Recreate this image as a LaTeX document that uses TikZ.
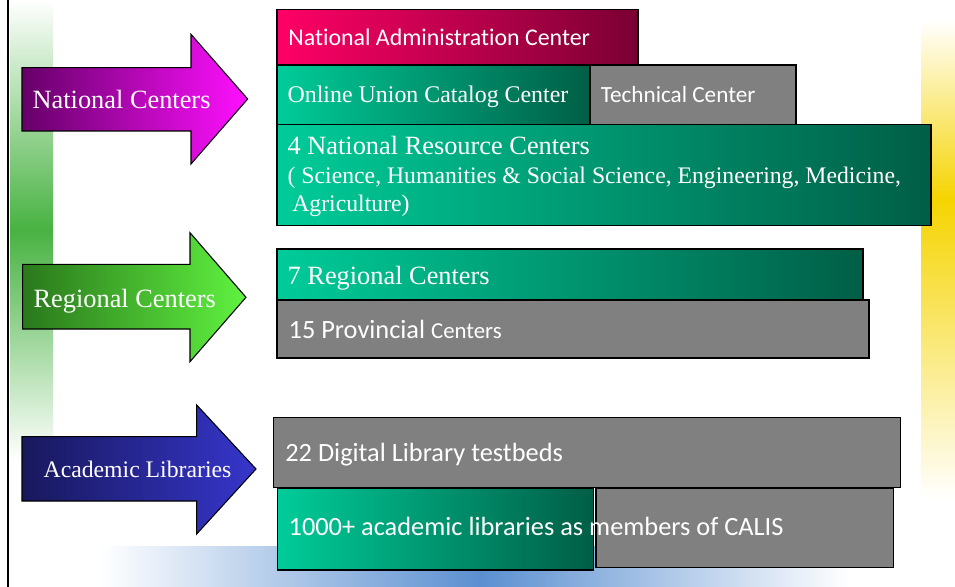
\documentclass[tikz,border=0pt]{standalone}
\usepackage{fontspec}
\newfontfamily\timesfont{Liberation Serif}
\newfontfamily\calibrifont{Carlito}[Ligatures=NoCommon]

\definecolor{tealhi}{RGB}{0,204,153}
\definecolor{tealdk}{RGB}{0,94,70}
\definecolor{boxgrey}{RGB}{128,128,128}
\definecolor{rosehi}{RGB}{255,0,102}
\definecolor{rosedk}{RGB}{122,0,50}
\definecolor{stripgreen}{RGB}{72,178,66}
\definecolor{stripyellow}{RGB}{245,212,0}
\definecolor{stripblue}{RGB}{91,143,208}
\definecolor{magdk}{RGB}{102,0,104}
\definecolor{maghi}{RGB}{255,16,255}
\definecolor{leafdk}{RGB}{42,120,28}
\definecolor{leafhi}{RGB}{96,242,64}
\definecolor{navydk}{RGB}{24,24,92}
\definecolor{navyhi}{RGB}{54,54,204}

\tikzset{
  outline/.style={draw=black, line width=0.6pt},
  greybox/.style={outline, fill=boxgrey},
  tealbox/.style={outline, left color=tealhi, right color=tealdk},
  rosebox/.style={outline, left color=rosehi, right color=rosedk},
  serif text/.style={anchor=base west, inner sep=0pt, text=white,
    font=\timesfont\fontsize{#1}{18}\selectfont},
  sans text/.style={anchor=base west, inner sep=0pt, text=white,
    font=\calibrifont\fontsize{#1}{18}\selectfont}
}

\begin{document}
\begin{tikzpicture}[x=0.02cm, y=-0.02cm]

    \useasboundingbox (0,0) rectangle (955,587);

    % backdrop strips
    \fill[top color=white, bottom color=stripgreen] (10,0) rectangle (53,230);
    \fill[top color=stripgreen, bottom color=white] (10,230) rectangle (53,460);
    \fill[top color=white, bottom color=stripyellow] (921,20) rectangle (955,200);
    \fill[top color=stripyellow, bottom color=white] (921,200) rectangle (955,500);
    \fill[left color=white, right color=stripblue] (100,546) rectangle (480,587);
    \fill[left color=stripblue, right color=white] (480,546) rectangle (850,587);
    \draw[line width=1.2pt] (8,0) -- (8,587);

    % level arrows
    \draw[outline, left color=magdk, right color=maghi] (22,67.7) -- (191,67.7) -- (191,34.3)
        -- (247.7,99) -- (191,164) -- (191,131) -- (22,131) -- cycle;
    \node[serif text=15] (natl) at (32.3,109) {National Centers};

    \draw[outline, left color=leafdk, right color=leafhi] (22.7,264.3) -- (190,264.3) -- (190,232.7)
        -- (246,297.3) -- (190,361.7) -- (190,329) -- (22.7,329) -- cycle;
    \node[serif text=15] (regl) at (33.3,307.3) {Regional Centers};

    \draw[outline, left color=navydk, right color=navyhi] (22,436.7) -- (196.7,436.7) -- (196.7,405)
        -- (256,469) -- (196.7,534) -- (196.7,501) -- (22,501) -- cycle;
    \node[serif text=13.5] (acad) at (43.3,477.7) {Academic Libraries};

    % national level
    \draw[rosebox] (277,9.3) rectangle (638,65);
    \node[sans text=13.6] (admin) at (288,45.7) {National Administration Center};
    \draw[tealbox] (277,65) rectangle (590,124.7);
    \node[serif text=13.6] (union) at (287.3,103) {Online Union Catalog Center};
    \draw[greybox] (590,65) rectangle (796,124.7);
    \node[sans text=13.2] (tech) at (600.5,103) {Technical Center};
    \draw[tealbox] (277,124.7) rectangle (931,225.7);
    \node[serif text=15] (natres) at (287.3,155) {4 National Resource Centers};
    \node[serif text=13.5] (fields) at (287.3,184)
        {( Science, Humanities \& Social Science, Engineering, Medicine,};
    \node[serif text=13.5] (agri) at (292,212) {Agriculture)};

    % regional level
    \draw[tealbox] (277,249) rectangle (863,300);
    \node[serif text=15] (regc) at (287.3,284) {7 Regional Centers};
    \draw[greybox] (277,300) rectangle (869,358);
    \node[sans text=15] (prov) at (288.3,338.3)
        {15 Provincial {\fontsize{13}{16}\selectfont Centers}};

    % academic level
    \draw[greybox] (273.3,417.3) rectangle (900.7,487.3);
    \node[sans text=15] (testbed) at (285,461) {22 Digital Library testbeds};
    \draw[tealbox] (277.3,488.3) rectangle (593.3,570);
    \draw[greybox] (596,488.3) rectangle (893.3,567.7);
    \node[sans text=15] (members) at (288.3,535) {1000+ academic libraries as members of CALIS};

\end{tikzpicture}
\end{document}
